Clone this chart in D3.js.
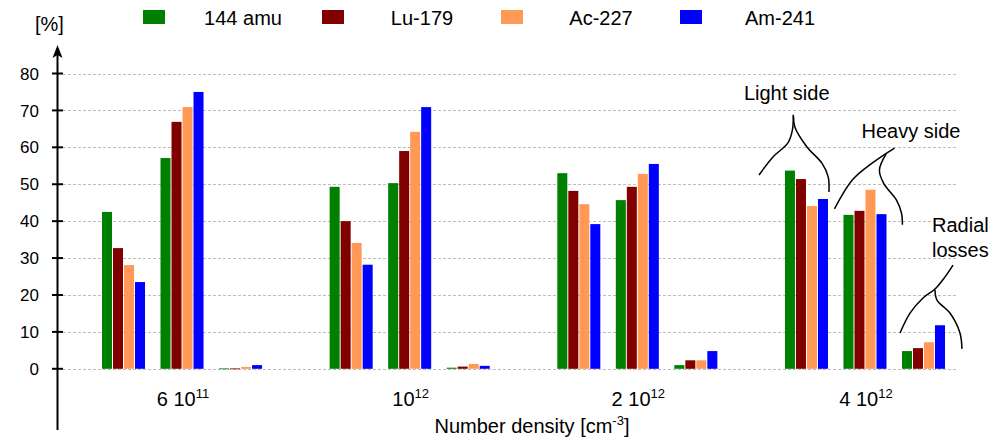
<!DOCTYPE html>
<html>
<head>
<meta charset="utf-8">
<script src="https://cdn.jsdelivr.net/npm/d3@7"></script>
<style>
  body { margin: 0; background: #fff; }
  text { font-family: "Liberation Sans", Arial, sans-serif; fill: #000; }
</style>
</head>
<body>
<div id="chart"></div>
<script>
// Data
var groups = ["g1", "g2", "g3", "g4"];
var groupBase = ["6 10", "10", "2 10", "4 10"];
var groupExp = ["11", "12", "12", "12"];
var subgroups = ["light", "heavy", "radial"];
var isotopes = ["144 amu", "Lu-179", "Ac-227", "Am-241"];
var colors = ["#008000", "#800000", "#FF9955", "#0000FF"];

// one value per (group, subgroup): light, heavy, radial for each density
var amu144 = [42.5, 57.1, 0.1, 49.3, 50.3, 0.3, 53.0, 45.7, 1.0, 53.7, 41.7, 4.8];
var lu179  = [32.7, 66.9, 0.1, 40.0, 59.0, 0.6, 48.2, 49.3, 2.3, 51.4, 42.8, 5.6];
var ac227  = [28.1, 70.9, 0.5, 34.1, 64.2, 1.3, 44.6, 52.8, 2.3, 44.1, 48.5, 7.2];
var am241  = [23.5, 75.0, 1.0, 28.2, 70.9, 0.8, 39.2, 55.5, 4.8, 46.0, 41.9, 11.8];
var series = [amu144, lu179, ac227, am241];

var yTicks = [0, 10, 20, 30, 40, 50, 60, 70, 80];

// brace annotations, points in [bar units from subgroup start, percent]
var braces = [
  {sub: "light", label: ["Light side"], labelAt: [-3.73, 72.8],
   left: [[-2.36, 52.5], [-1.09, 57.4], [0.27, 61.2], [0.68, 64.7], [0.75, 68.8]],
   right: [[0.78, 68.4], [0.9, 65.5], [2.0, 60.1], [3.36, 55.7], [3.93, 52.0], [4.0, 47.9]]},
  {sub: "heavy", label: ["Heavy side"], labelAt: [1.64, 62.5],
   left: [[-0.82, 43.3], [0.82, 51.2], [2.64, 55.8], [4.64, 59.8]],
   right: [[3.88, 58.2], [3.27, 53.9], [3.64, 50.3], [4.82, 45.7], [5.27, 42.2], [5.36, 39.0]]},
  {sub: "radial", label: ["Radial", "losses"], labelAt: [2.73, 37.1],
   left: [[-0.18, 9.7], [0.73, 15.1], [1.91, 19.2], [3.0, 21.6], [3.91, 24.9], [4.64, 28.1]],
   right: [[3.0, 21.4], [3.18, 18.6], [4.36, 15.1], [5.27, 9.7], [5.45, 5.4]]}
];

var width = 993, height = 441;

var svg = d3.select("#chart")
  .append("svg")
  .attr("width", width)
  .attr("height", height);

var x0 = d3.scaleBand().domain(groups).range([102, 945]).paddingInner(0.297).paddingOuter(0);
var x1 = d3.scaleBand().domain(subgroups).range([0, x0.bandwidth()]).paddingInner(0.265);
var x2 = d3.scaleBand().domain(isotopes).range([0, x1.bandwidth()]).paddingInner(0.09);

var y = d3.scaleLinear().domain([0, 80]).range([368.8, 73.5]);

var axisX = 57.5;
var gridLeft = 63, gridRight = 957;

// gridlines
svg.append("g")
  .selectAll("line")
  .data(yTicks)
  .enter()
  .append("line")
  .attr("x1", gridLeft)
  .attr("x2", gridRight)
  .attr("y1", function (d) { return Math.round(y(d)) + 0.5; })
  .attr("y2", function (d) { return Math.round(y(d)) + 0.5; })
  .attr("stroke", "#bdbdbd")
  .attr("stroke-width", 1)
  .attr("stroke-dasharray", "3,2");

// bars
var barData = [];
groups.forEach(function (g, gi) {
  subgroups.forEach(function (s, si) {
    isotopes.forEach(function (iso, ii) {
      barData.push({g: g, s: s, iso: iso, i: ii, v: series[ii][gi * 3 + si]});
    });
  });
});

svg.append("g")
  .selectAll("rect")
  .data(barData)
  .enter()
  .append("rect")
  .attr("x", function (d) { return x0(d.g) + x1(d.s) + x2(d.iso); })
  .attr("width", x2.bandwidth())
  .attr("y", function (d) { return y(d.v); })
  .attr("height", function (d) { return Math.max(0.8, y(0) - y(d.v)); })
  .attr("fill", function (d) { return colors[d.i]; });

// y axis
var yAxisG = svg.append("g");
yAxisG.append("line")
  .attr("x1", axisX).attr("x2", axisX)
  .attr("y1", 430).attr("y2", 54)
  .attr("stroke", "#000").attr("stroke-width", 2);
yAxisG.append("path")
  .attr("d", "M" + axisX + ",45 L" + (axisX + 5) + ",58 L" + axisX + ",55 L" + (axisX - 5) + ",58 Z")
  .attr("fill", "#000");

yAxisG.selectAll("line.tick")
  .data(yTicks)
  .enter()
  .append("line")
  .attr("class", "tick")
  .attr("x1", 52).attr("x2", 63)
  .attr("y1", function (d) { return y(d); })
  .attr("y2", function (d) { return y(d); })
  .attr("stroke", "#000").attr("stroke-width", 2);

yAxisG.selectAll("text")
  .data(yTicks)
  .enter()
  .append("text")
  .attr("x", 39)
  .attr("y", function (d) { return y(d); })
  .attr("dy", "0.36em")
  .attr("text-anchor", "end")
  .style("font-size", "17px")
  .text(function (d) { return d; });

svg.append("text")
  .attr("x", 35).attr("y", 31)
  .style("font-size", "20px")
  .text("[%]");

// x labels
var xl = svg.append("g")
  .selectAll("text")
  .data(groups)
  .enter()
  .append("text")
  .attr("x", function (d) { return x0(d) + x0.bandwidth() / 2 + 1; })
  .attr("y", 406)
  .attr("text-anchor", "middle")
  .style("font-size", "20px");
xl.append("tspan").text(function (d, i) { return groupBase[i]; });
xl.append("tspan")
  .attr("dy", -8)
  .style("font-size", "13px")
  .text(function (d, i) { return groupExp[i]; });

var xt = svg.append("text")
  .attr("x", 532).attr("y", 433)
  .attr("text-anchor", "middle")
  .style("font-size", "20px");
xt.append("tspan").text("Number density [cm");
xt.append("tspan").attr("dy", -8).style("font-size", "13px").text("-3");
xt.append("tspan").attr("dy", 8).text("]");

// legend
var legend = svg.append("g")
  .selectAll("g")
  .data(isotopes)
  .enter()
  .append("g")
  .attr("transform", function (d, i) { return "translate(" + (143 + i * 179) + ",10)"; });
legend.append("rect")
  .attr("width", 22).attr("height", 14)
  .attr("fill", function (d, i) { return colors[i]; });
legend.append("text")
  .attr("x", 100).attr("y", 15)
  .attr("text-anchor", "middle")
  .style("font-size", "20px")
  .text(function (d) { return d; });

// annotations
var annG = "g4";
var ann = svg.append("g");
braces.forEach(function (b) {
  var bx = function (u) { return x0(annG) + x1(b.sub) + u * x2.step(); };
  var line = d3.line()
    .x(function (p) { return bx(p[0]); })
    .y(function (p) { return y(p[1]); })
    .curve(d3.curveCatmullRom.alpha(0.5));
  [b.left, b.right].forEach(function (pts) {
    ann.append("path")
      .attr("d", line(pts))
      .attr("fill", "none")
      .attr("stroke", "#000")
      .attr("stroke-width", 1.5);
  });
  b.label.forEach(function (t, k) {
    ann.append("text")
      .attr("x", bx(b.labelAt[0]))
      .attr("y", y(b.labelAt[1]) + k * 25)
      .style("font-size", "20px")
      .text(t);
  });
});
</script>
</body>
</html>
